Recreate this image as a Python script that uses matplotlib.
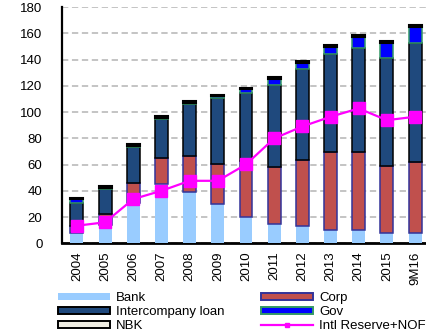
import matplotlib
matplotlib.use("Agg")
import matplotlib.pyplot as plt
import numpy as np
from matplotlib.patches import Patch
from matplotlib.lines import Line2D

plt.rcParams['font.family'] = ['Liberation Sans', 'DejaVu Sans']

periods = ["2004", "2005", "2006", "2007", "2008", "2009", "2010",
           "2011", "2012", "2013", "2014", "2015", "9M16"]
bank = [7.5, 14.0, 31.0, 45.0, 39.3, 30.0, 19.8, 15.0, 13.3, 10.1, 10.1, 7.5, 7.5]
corp = [5.5, 8.5, 14.7, 19.7, 27.1, 30.5, 43.2, 42.8, 50.4, 59.4, 59.4, 51.5, 54.1]
interco = [18.0, 18.8, 27.3, 29.7, 39.6, 50.0, 51.3, 62.7, 68.7, 74.8, 79.4, 82.5, 90.6]
gov = [2.5, 1.0, 1.0, 1.0, 1.0, 1.5, 3.0, 4.5, 4.8, 5.3, 8.3, 11.2, 12.5]
nbk = [1.3, 1.3, 1.3, 1.3, 1.3, 1.3, 1.3, 1.3, 1.3, 1.3, 1.3, 1.3, 1.3]
reserve_nof = [13.4, 16.0, 33.7, 40.0, 47.6, 47.6, 60.1, 79.9, 89.0, 96.4, 102.7, 93.8, 96.4]

fig = plt.figure(figsize=(4.26, 3.34), dpi=100)
ax = fig.add_axes([62 / 426, 90.7 / 334, 368 / 426, 236.3 / 334])

x = np.arange(len(periods))
w = 0.46

layers = [
    ("Bank", bank, "#99CCFF", "#99CCFF", 0.0),
    ("Corp", corp, "#C0504D", "#333399", 1.1),
    ("Intercompany loan", interco, "#1F497D", "#000000", 1.1),
    ("Gov", gov, "#0000FF", "#339966", 1.1),
    ("NBK", nbk, "#EEECE1", "#000000", 1.5),
]

bottom = np.zeros(len(periods))
handles = {}
for name, vals, fc, ec, lw in layers:
    vals = np.asarray(vals)
    ax.bar(x, vals, w, bottom=bottom, color=fc, edgecolor=ec, linewidth=lw, zorder=3)
    bottom += vals
    handles[name] = Patch(facecolor=fc, edgecolor=ec,
                          linewidth=0 if name == "Bank" else 1.4)

ax.plot(x, reserve_nof, color="#FF00FF", linewidth=1.6, marker="s", markersize=8.6,
        zorder=4)

ax.set_xlim(-0.53, len(periods) - 0.47)
ax.set_ylim(0, 180)
ax.set_yticks(np.arange(0, 181, 20))
ax.yaxis.grid(True, color="#BFBFBF", linestyle=(0, (3.5, 2)), linewidth=1.3, zorder=0)
ax.set_axisbelow(True)

ax.set_xticks(x)
ax.set_xticklabels(periods, rotation=90, fontsize=9.5)
ax.tick_params(axis="both", length=0, labelsize=9.5, colors="#000000")
ax.tick_params(axis="y", pad=14)
ax.tick_params(axis="x", pad=6)

for s in ["top", "right"]:
    ax.spines[s].set_visible(False)
ax.spines["left"].set_linewidth(1.6)
ax.spines["bottom"].set_linewidth(2.0)

handles["Intl Reserve+NOF"] = Line2D([0], [0], color="#FF00FF", linewidth=1.6,
                                     marker="s", markersize=3.5)
# legend fills column by column: left column first, then right column
labels = ["Bank", "Intercompany loan", "NBK", "Corp", "Gov", "Intl Reserve+NOF"]
fig.legend([handles[k] for k in labels], labels, ncol=2, loc="upper left",
           bbox_to_anchor=(49 / 426, 1 - 283 / 334),
           frameon=False, fontsize=9.5, handlelength=3.9, handleheight=0.5,
           handletextpad=0.5, labelspacing=0.15, columnspacing=2.75, borderpad=0.2)

fig.savefig("out.png", dpi=100)
